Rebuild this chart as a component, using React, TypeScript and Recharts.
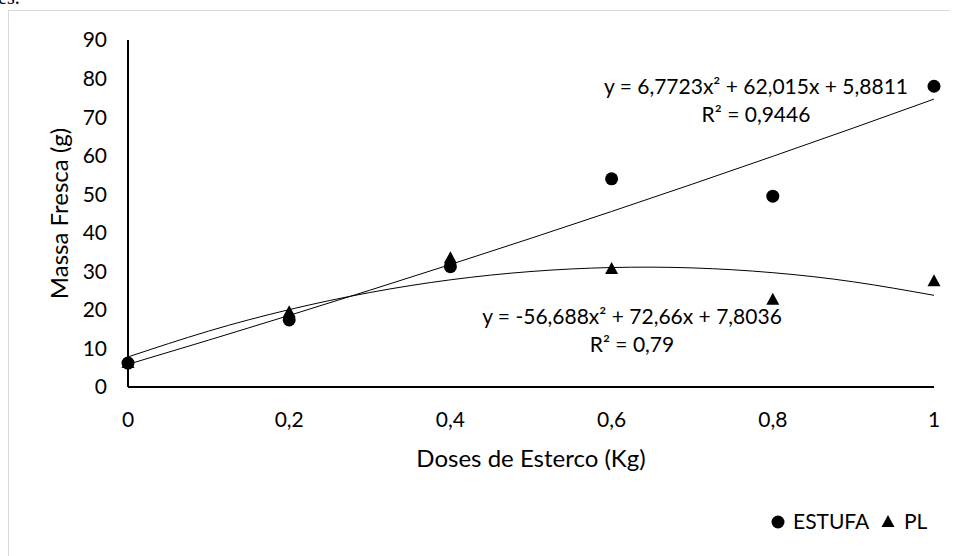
import { ComposedChart, Scatter, Line, XAxis, YAxis, Label, Customized } from 'recharts';

const doses = [0, 0.2, 0.4, 0.6, 0.8, 1];
const estufaValues = [6.2, 17.4, 31.2, 54, 49.5, 78];
const plValues = [6.2, 19.4, 33.4, 30.6, 22.6, 27.4];

// trend curves
const trendDoses = [0, 0.1, 0.2, 0.3, 0.4, 0.5, 0.6, 0.7, 0.8, 0.9, 1];
const estufaTrendValues = [5.88, 12.15, 18.56, 25.1, 31.77, 38.58, 45.53, 52.61, 59.83, 67.18, 74.67];
const plTrendValues = [7.8, 14.5, 20.07, 24.5, 27.8, 29.96, 30.99, 30.89, 29.65, 27.28, 23.78];

const xTicks = [0, 0.2, 0.4, 0.6, 0.8, 1];
const yTicks = [0, 10, 20, 30, 40, 50, 60, 70, 80, 90];

const estufaData = doses.map((x, i) => ({ x, y: estufaValues[i] }));
const plData = doses.map((x, i) => ({ x, y: plValues[i] }));
const estufaTrend = trendDoses.map((x, i) => ({ x, y: estufaTrendValues[i] }));
const plTrend = trendDoses.map((x, i) => ({ x, y: plTrendValues[i] }));

const FONT = 'Lato, "Open Sans", sans-serif';

const Dot = (props: any) => <circle cx={props.cx} cy={props.cy} r={6.5} fill="#000" />;
const Tri = (props: any) => {
  const { cx, cy } = props;
  return <polygon points={`${cx},${cy - 7} ${cx + 6.5},${cy + 5} ${cx - 6.5},${cy + 5}`} fill="#000" />;
};

const Extras = () => (
  <g fontFamily={FONT} fontSize={21} fill="#000">
    <text x={747} y={76} dy="0.35em" textAnchor="middle">y = 6,7723x² + 62,015x + 5,8811</text>
    <text x={747} y={104} dy="0.35em" textAnchor="middle">R² = 0,9446</text>
    <text x={623} y={306} dy="0.35em" textAnchor="middle">y = -56,688x² + 72,66x + 7,8036</text>
    <text x={623} y={334} dy="0.35em" textAnchor="middle">R² = 0,79</text>
    <circle cx={769} cy={511} r={6.5} />
    <text x={784} y={511} dy="0.35em">ESTUFA</text>
    <polygon points="879,504 885.5,516 872.5,516" />
    <text x={895} y={511} dy="0.35em">PL</text>
  </g>
);

const YTitle = (props: any) => {
  const vb = props.viewBox;
  const cy = vb.y + vb.height / 2;
  return (
    <text
      x={51}
      y={cy}
      dy="0.35em"
      textAnchor="middle"
      transform={`rotate(-90, 51, ${cy})`}
      fontFamily={FONT}
      fontSize={24}
      fill="#000"
    >
      Massa Fresca (g)
    </text>
  );
};

export default function App() {
  return (
    <>
      <div style={{ position: 'absolute', left: -2, top: -14, fontFamily: 'serif', fontSize: 20 }}>es.</div>
      <div
        style={{
          marginTop: 2,
          width: 950,
          height: 546,
          borderTop: '1px solid #d9d9d9',
          borderLeft: '1px solid #d9d9d9',
          boxSizing: 'border-box',
        }}
      >
        <ComposedChart width={949} height={545} margin={{ top: 29, right: 24, left: 0, bottom: 69 }}>
          <XAxis
            type="number"
            dataKey="x"
            domain={[0, 1]}
            ticks={xTicks}
            tickFormatter={(v: number) => String(v).replace('.', ',')}
            axisLine={{ stroke: '#000', strokeWidth: 2 }}
            tickLine={false}
            tickSize={0}
            tickMargin={25}
            height={100}
            tick={{ fill: '#000', fontSize: 21, fontFamily: FONT }}
          >
            <Label value="Doses de Esterco (Kg)" position="insideBottom" offset={20} fill="#000" fontSize={24} fontFamily={FONT} />
          </XAxis>
          <YAxis
            type="number"
            domain={[0, 90]}
            ticks={yTicks}
            axisLine={{ stroke: '#000', strokeWidth: 2 }}
            tickLine={false}
            tickSize={0}
            tickMargin={21}
            width={119}
            tick={{ fill: '#000', fontSize: 21, fontFamily: FONT }}
          >
            <Label content={<YTitle />} />
          </YAxis>
          <Line data={estufaTrend} dataKey="y" type="natural" stroke="#000" strokeWidth={1} dot={false} activeDot={false} isAnimationActive={false} />
          <Line data={plTrend} dataKey="y" type="natural" stroke="#000" strokeWidth={1} dot={false} activeDot={false} isAnimationActive={false} />
          <Scatter name="PL" data={plData} dataKey="y" shape={<Tri />} isAnimationActive={false} />
          <Scatter name="ESTUFA" data={estufaData} dataKey="y" shape={<Dot />} isAnimationActive={false} />
          <Customized component={Extras} />
        </ComposedChart>
      </div>
    </>
  );
}
